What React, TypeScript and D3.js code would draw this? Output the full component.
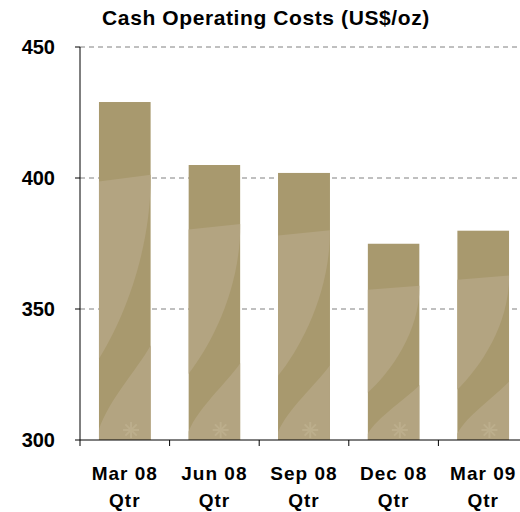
import { useMemo } from 'react'
import * as d3 from 'd3'

// quarter labels, two lines each
const CATEGORIES = ['Mar 08 Qtr', 'Jun 08 Qtr', 'Sep 08 Qtr', 'Dec 08 Qtr', 'Mar 09 Qtr']
const LINE1 = ['Mar 08', 'Jun 08', 'Sep 08', 'Dec 08', 'Mar 09']
const LINE2 = ['Qtr', 'Qtr', 'Qtr', 'Qtr', 'Qtr']
const COSTS = [429, 405, 402, 375, 380]
const Y_TICKS = [300, 350, 400, 450]

const W = 520
const H = 512
const FONT = 'Liberation Sans, Arial, sans-serif'
const DARK = '#a8996e'
const LIGHT = '#b3a481'

export default function App() {
  const x = useMemo(
    () => d3.scaleBand().domain(CATEGORIES).range([80, 528]).paddingInner(0.42).paddingOuter(0.21),
    []
  )
  const y = useMemo(() => d3.scaleLinear().domain([300, 450]).range([440, 47]), [])

  const step = x.step()

  return (
    <svg width={W} height={H} style={{ position: 'absolute', left: 0, top: 0, background: '#fff' }}>
      <text x={266} y={25} textAnchor="middle" fontFamily={FONT} fontWeight="bold" fontSize={21} letterSpacing={0.6}>
        Cash Operating Costs (US$/oz)
      </text>

      {/* gridlines */}
      {Y_TICKS.filter(t => t > 300).map(t => (
        <line key={t} x1={80} x2={W} y1={y(t)} y2={y(t)} stroke="#808080" strokeWidth={1} strokeDasharray="5,4" />
      ))}

      {/* bars */}
      <defs>
        {CATEGORIES.map((c, i) => (
          <clipPath id={`clip${i}`} key={c}>
            <rect x={x(c)} y={y(COSTS[i])} width={x.bandwidth()} height={y(300) - y(COSTS[i])} />
          </clipPath>
        ))}
      </defs>
      {CATEGORIES.map((c, i) => {
        const x0 = x(c) as number
        const w = x.bandwidth()
        const x1 = x0 + w
        const y0 = y(COSTS[i])
        const y1 = y(300)
        const h = y1 - y0
        // watermark-like lighter swirls inside each bar
        const light1 = `M${x0},${y0 + 0.235 * h} L${x1},${y0 + 0.215 * h} C${x1},${y0 + 0.45 * h} ${x0 + 0.45 * w},${y0 + 0.65 * h} ${x0},${y0 + 0.76 * h} Z`
        const light2 = `M${x1},${y0 + 0.72 * h} C${x1 - 0.3 * w},${y0 + 0.8 * h} ${x0 + 0.2 * w},${y0 + 0.88 * h} ${x0},${y0 + 0.97 * h} L${x0},${y1} L${x1},${y1} Z`
        const sx = x0 + 0.62 * w
        const sy = y1 - 10
        return (
          <g key={c} clipPath={`url(#clip${i})`}>
            <rect x={x0} y={y0} width={w} height={h} fill={DARK} />
            <path d={light1} fill={LIGHT} />
            <path d={light2} fill={LIGHT} />
            {[0, 45, 90, 135].map(a => (
              <line
                key={a}
                x1={sx - 8 * Math.cos((a * Math.PI) / 180)}
                y1={sy - 8 * Math.sin((a * Math.PI) / 180)}
                x2={sx + 8 * Math.cos((a * Math.PI) / 180)}
                y2={sy + 8 * Math.sin((a * Math.PI) / 180)}
                stroke="#bcae8c"
                strokeWidth={2}
              />
            ))}
          </g>
        )
      })}

      {/* y axis */}
      <line x1={80} x2={80} y1={y(450)} y2={y(300)} stroke="#000" />
      {Y_TICKS.map(t => (
        <g key={t}>
          <line x1={75} x2={80} y1={y(t)} y2={y(t)} stroke="#000" />
          <text x={55} y={y(t)} dy="0.36em" textAnchor="end" fontFamily={FONT} fontWeight="bold" fontSize={20}>
            {t}
          </text>
        </g>
      ))}

      {/* x axis */}
      <line x1={80} x2={W} y1={y(300)} y2={y(300)} stroke="#000" />
      {CATEGORIES.map((c, i) => {
        const left = (x(c) as number) - (step - x.bandwidth()) / 2
        const cx = (x(c) as number) + x.bandwidth() / 2
        return (
          <g key={c}>
            <line x1={left} x2={left} y1={440} y2={446} stroke="#000" />
            <text x={cx} y={480} textAnchor="middle" fontFamily={FONT} fontWeight="bold" fontSize={19} letterSpacing={1}>
              {LINE1[i]}
            </text>
            <text x={cx} y={507} textAnchor="middle" fontFamily={FONT} fontWeight="bold" fontSize={19} letterSpacing={1}>
              {LINE2[i]}
            </text>
          </g>
        )
      })}
    </svg>
  )
}
